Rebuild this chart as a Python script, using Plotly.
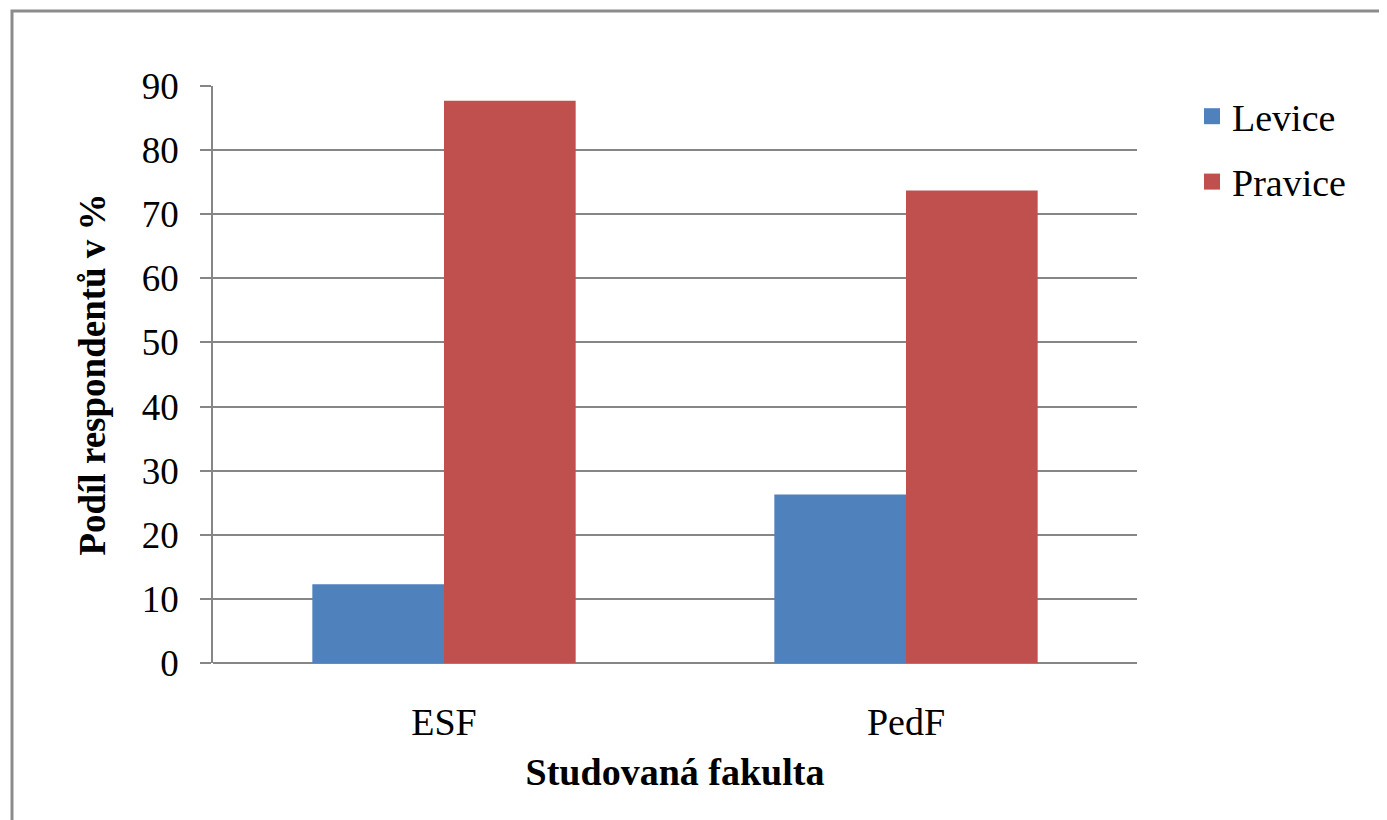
import plotly.graph_objects as go

categories = ["ESF", "PedF"]
levice = [12.3, 26.3]
pravice = [87.7, 73.7]
y_ticks = [0, 10, 20, 30, 40, 50, 60, 70, 80, 90]
series_names = ["Levice", "Pravice"]
series_colors = ["#4F81BD", "#C0504D"]

W, H = 1387, 820
OFF = 8  # page body margin
L, T = 213 - OFF, 86 - OFF
pw, ph = 924, 577
R, B = W - L - pw, H - T - ph

def px_x(px):
    return (px - OFF - L) / pw

def px_y(py):
    return (T + ph - (py - OFF)) / ph

font_family = "Liberation Serif"
grid_c = "#868686"

fig = go.Figure()
for name, vals, col in zip(series_names, [levice, pravice], series_colors):
    fig.add_trace(go.Bar(name=name, x=categories, y=vals, marker_color=col,
                         marker_line_width=0, showlegend=False))
for i, (name, col) in enumerate(zip(series_names, series_colors)):
    fig.add_trace(go.Scatter(
        name=f"<span style='font-family:Liberation Serif'>{name}</span>",
        x=[None], y=[None], mode="markers",
        marker=dict(symbol="square", size=18, color=col),
        legendgroup=f"g{i}", showlegend=True))

fig.update_layout(
    template="none",
    width=W, height=H,
    margin=dict(l=L, r=R, t=T, b=B, autoexpand=False),
    paper_bgcolor="white", plot_bgcolor="white",
    font=dict(family=font_family, size=38, color="black"),
    barmode="group", bargap=0.43, bargroupgap=0,
    showlegend=True,
    legend=dict(x=px_x(1192), y=px_y(85), xanchor="left", yanchor="top",
                traceorder="grouped", tracegroupgap=13,
                font=dict(size=38, family=font_family, color="black"),
                itemwidth=30, bgcolor="rgba(0,0,0,0)", borderwidth=0),
    xaxis=dict(
        type="category",
        showgrid=False, showline=False, ticks="", zeroline=False,
        ticklabelstandoff=33,
        title=dict(text="<b>Studovaná fakulta</b>", standoff=16,
                   font=dict(size=38, family=font_family)),
        tickfont=dict(size=38, family=font_family),
    ),
    yaxis=dict(
        range=[0, 90], tickvals=y_ticks, ticktext=[str(v) for v in y_ticks],
        showgrid=True, gridcolor=grid_c, gridwidth=1.5,
        showline=True, linecolor=grid_c, linewidth=1.5,
        ticks="outside", ticklen=11, tickcolor=grid_c, tickwidth=1.5,
        ticklabelstandoff=14,
        zeroline=True, zerolinecolor=grid_c, zerolinewidth=1.5,
        title=dict(text="<b>Podíl respondentů v %</b>", standoff=25,
                   font=dict(size=37, family=font_family)),
        tickfont=dict(size=37, family=font_family),
    ),
    shapes=[dict(type="rect", xref="paper", yref="paper",
                 x0=px_x(12), x1=px_x(1600), y0=px_y(1000), y1=px_y(11),
                 line=dict(color="#8c8c8c", width=3), fillcolor="rgba(0,0,0,0)",
                 layer="below")],
)

fig.write_html("out.html")
